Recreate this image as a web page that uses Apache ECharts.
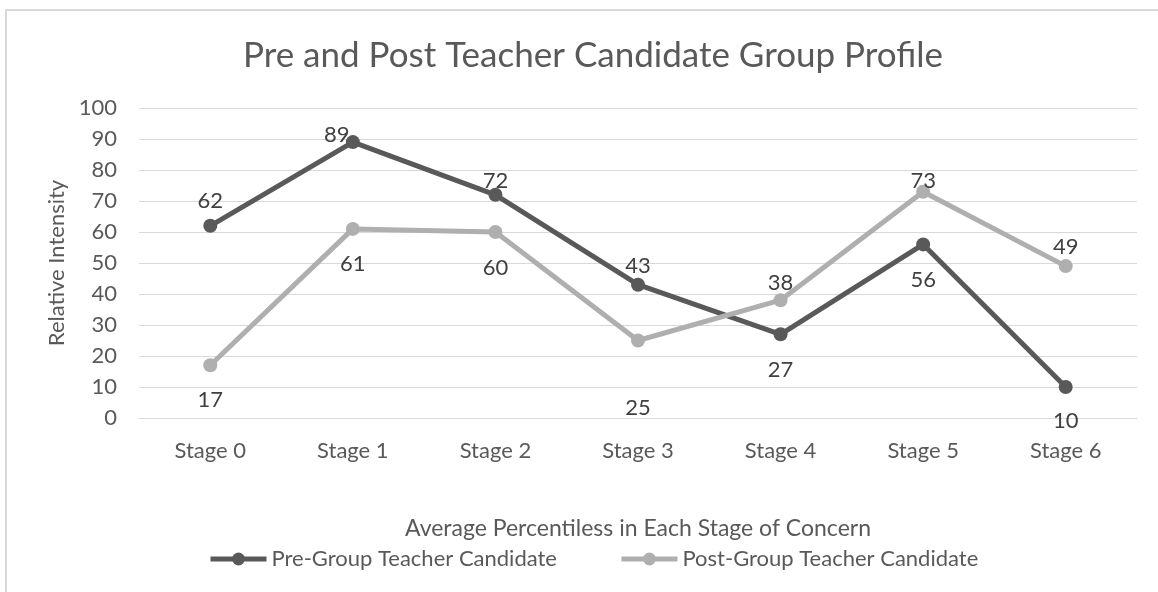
<!DOCTYPE html>
<html>
<head>
<meta charset="utf-8">
<script src="https://cdn.jsdelivr.net/npm/echarts@6/dist/echarts.min.js"></script>
<style>
  html, body { margin: 0; padding: 0; background: #fff; overflow: hidden; }
  #frame { position: absolute; left: 5px; top: 9px; width: 1200px; height: 700px; border: 2px solid #d9d9d9; }
  #chart { position: absolute; left: 0; top: 0; width: 1158px; height: 592px; }
</style>
</head>
<body>
<div id="frame"></div>
<div id="chart"></div>
<script>
const stages = ['Stage 0', 'Stage 1', 'Stage 2', 'Stage 3', 'Stage 4', 'Stage 5', 'Stage 6']
const preGroup = [62, 89, 72, 43, 27, 56, 10]
const postGroup = [17, 61, 60, 25, 38, 73, 49]
const yTicks = { min: 0, max: 100, interval: 10 }

const font = 'Lato'
const textColor = '#595959'
const labelColor = '#404040'

// where Excel put each data label (above / below the marker)
const preLabels = [
  { position: 'top', distance: 7 },
  { position: 'top', distance: 0, offset: [-16, 11] },
  { position: 'top', distance: -4 },
  { position: 'top', distance: 1 },
  { position: 'bottom', distance: 18 },
  { position: 'bottom', distance: 18 },
  { position: 'bottom', distance: 16 }
]
const postLabels = [
  { position: 'bottom', distance: 17 },
  { position: 'bottom', distance: 17 },
  { position: 'bottom', distance: 18 },
  { position: 'bottom', distance: 49 },
  { position: 'top', distance: -1 },
  { position: 'top', distance: -7 },
  { position: 'top', distance: 1 }
]

function withLabels (values, labels) {
  return values.map((v, i) => ({ value: v, label: labels[i] }))
}

let chart = echarts.init(document.getElementById('chart'))

let option = {
  animation: false,
  textStyle: { fontFamily: font },
  title: {
    text: 'Pre and Post Teacher Candidate Group Profile',
    left: 588,
    top: 33,
    textAlign: 'center',
    textStyle: { fontFamily: font, fontSize: 35, fontWeight: 'normal', color: textColor }
  },
  legend: {
    bottom: 17,
    left: 203,
    itemWidth: 56,
    itemHeight: 16,
    itemGap: 62,
    lineStyle: { width: 5 },
    textStyle: { fontFamily: font, fontSize: 22, color: textColor },
    data: ['Pre-Group Teacher Candidate', 'Post-Group Teacher Candidate']
  },
  grid: { left: 139, right: 21, top: 108, bottom: 174 },
  xAxis: {
    type: 'category',
    data: stages,
    boundaryGap: true,
    name: 'Average Percentiless in Each Stage of Concern',
    nameLocation: 'middle',
    nameGap: 99,
    nameTextStyle: { fontFamily: font, fontSize: 23, color: textColor },
    axisLine: { lineStyle: { color: '#d9d9d9', width: 1 } },
    axisTick: { show: false },
    axisLabel: { fontFamily: font, fontSize: 22, color: textColor, margin: 22 }
  },
  yAxis: {
    type: 'value',
    min: yTicks.min,
    max: yTicks.max,
    interval: yTicks.interval,
    name: 'Relative Intensity',
    nameLocation: 'middle',
    nameGap: 70,
    nameTextStyle: { fontFamily: font, fontSize: 22, color: textColor },
    axisLine: { show: false },
    axisTick: { show: false },
    axisLabel: { fontFamily: font, fontSize: 22, color: textColor, margin: 22 },
    splitLine: { lineStyle: { color: '#d9d9d9', width: 1 } }
  },
  series: [
    {
      name: 'Pre-Group Teacher Candidate',
      type: 'line',
      data: withLabels(preGroup, preLabels),
      symbol: 'circle',
      symbolSize: 14,
      lineStyle: { color: '#595959', width: 5 },
      itemStyle: { color: '#595959' },
      label: { show: true, fontFamily: font, fontSize: 22, color: labelColor }
    },
    {
      name: 'Post-Group Teacher Candidate',
      type: 'line',
      data: withLabels(postGroup, postLabels),
      symbol: 'circle',
      symbolSize: 14,
      lineStyle: { color: '#afafaf', width: 5 },
      itemStyle: { color: '#afafaf' },
      label: { show: true, fontFamily: font, fontSize: 22, color: labelColor }
    }
  ]
}

chart.setOption(option)
</script>
</body>
</html>
